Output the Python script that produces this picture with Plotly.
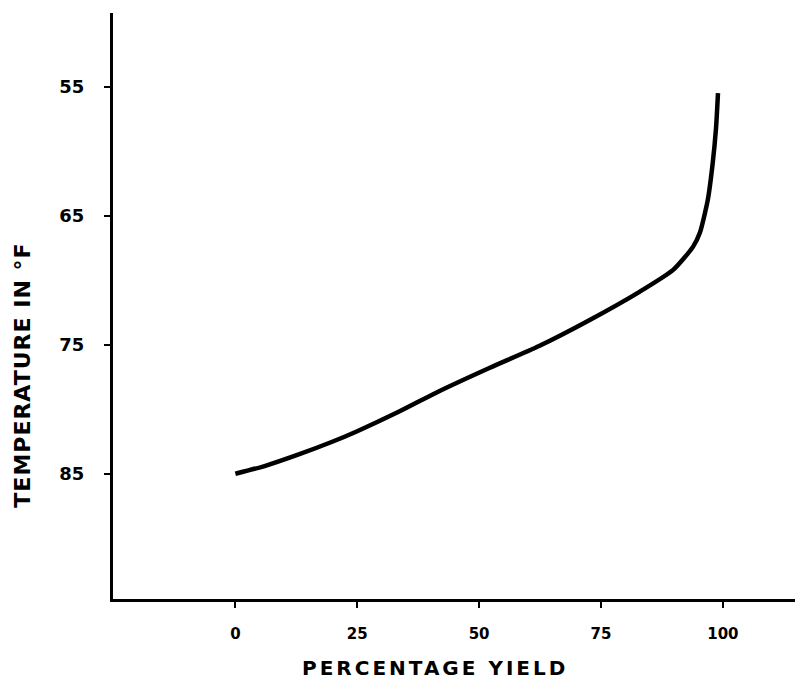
import plotly.graph_objects as go

# Data
yield_pct = [0, 6, 13, 20, 25, 33.5, 41.8, 52.1, 62.3, 72.6, 82.9, 89.8, 93.9, 95.3, 96.9, 97.9, 98.6, 99.0]
temp_f = [85, 84.4, 83.5, 82.5, 81.7, 80.2, 78.6, 76.8, 75.1, 73.1, 70.9, 69.2, 67.4, 66.3, 63.8, 61.0, 58.2, 55.5]

x_ticks = [0, 25, 50, 75, 100]
y_ticks = [55, 65, 75, 85]

FONT = "DejaVu Sans"

fig = go.Figure()
fig.add_trace(go.Scatter(
    x=yield_pct, y=temp_f, mode="lines",
    line=dict(color="black", width=4.5, shape="spline", smoothing=0.6),
    showlegend=False, hoverinfo="skip",
))

fig.update_layout(
    width=798, height=679,
    margin=dict(l=113, r=3, t=13, b=80),
    paper_bgcolor="white", plot_bgcolor="white",
    font=dict(family=FONT, color="black"),
    xaxis=dict(
        range=[-25.1, 114.8], showgrid=False, zeroline=False,
        showline=True, linecolor="black", linewidth=2.5,
        tickmode="array", tickvals=x_ticks, ticktext=[str(v) for v in x_ticks],
        ticks="outside", ticklen=6, tickwidth=2, tickcolor="black",
        ticklabelstandoff=13,
        tickfont=dict(family=FONT, size=15, weight="bold"),
    ),
    yaxis=dict(
        range=[94.7, 49.3], showgrid=False, zeroline=False,
        showline=True, linecolor="black", linewidth=3,
        tickmode="array", tickvals=y_ticks, ticktext=[str(v) for v in y_ticks],
        ticks="outside", ticklen=6, tickwidth=2, tickcolor="black",
        ticklabelstandoff=16,
        tickfont=dict(family=FONT, size=18, weight="bold"),
    ),
    annotations=[
        dict(text="TEMPERATURE IN °F", xref="paper", yref="paper",
             x=0, y=0.382, xshift=-91, textangle=-90, showarrow=False,
             xanchor="center", yanchor="middle",
             font=dict(family=FONT, size=22, weight="bold")),
        dict(text="PERCENTAGE YIELD", xref="paper", yref="paper",
             x=0, y=0, xshift=322, yshift=-69, showarrow=False,
             xanchor="center", yanchor="middle",
             font=dict(family=FONT, size=20, weight="bold")),
    ],
)

fig.write_html("out.html", config={"displayModeBar": False}, post_script="""
document.body.style.margin = '0';
document.body.style.overflow = 'hidden';
document.querySelectorAll('.annotation-text').forEach(function(t){
  if (t.textContent.indexOf('PERCENTAGE') === 0) { t.style.letterSpacing = '3px'; }
  if (t.textContent.indexOf('TEMPERATURE') === 0) { t.style.letterSpacing = '1px'; }
});
""")
